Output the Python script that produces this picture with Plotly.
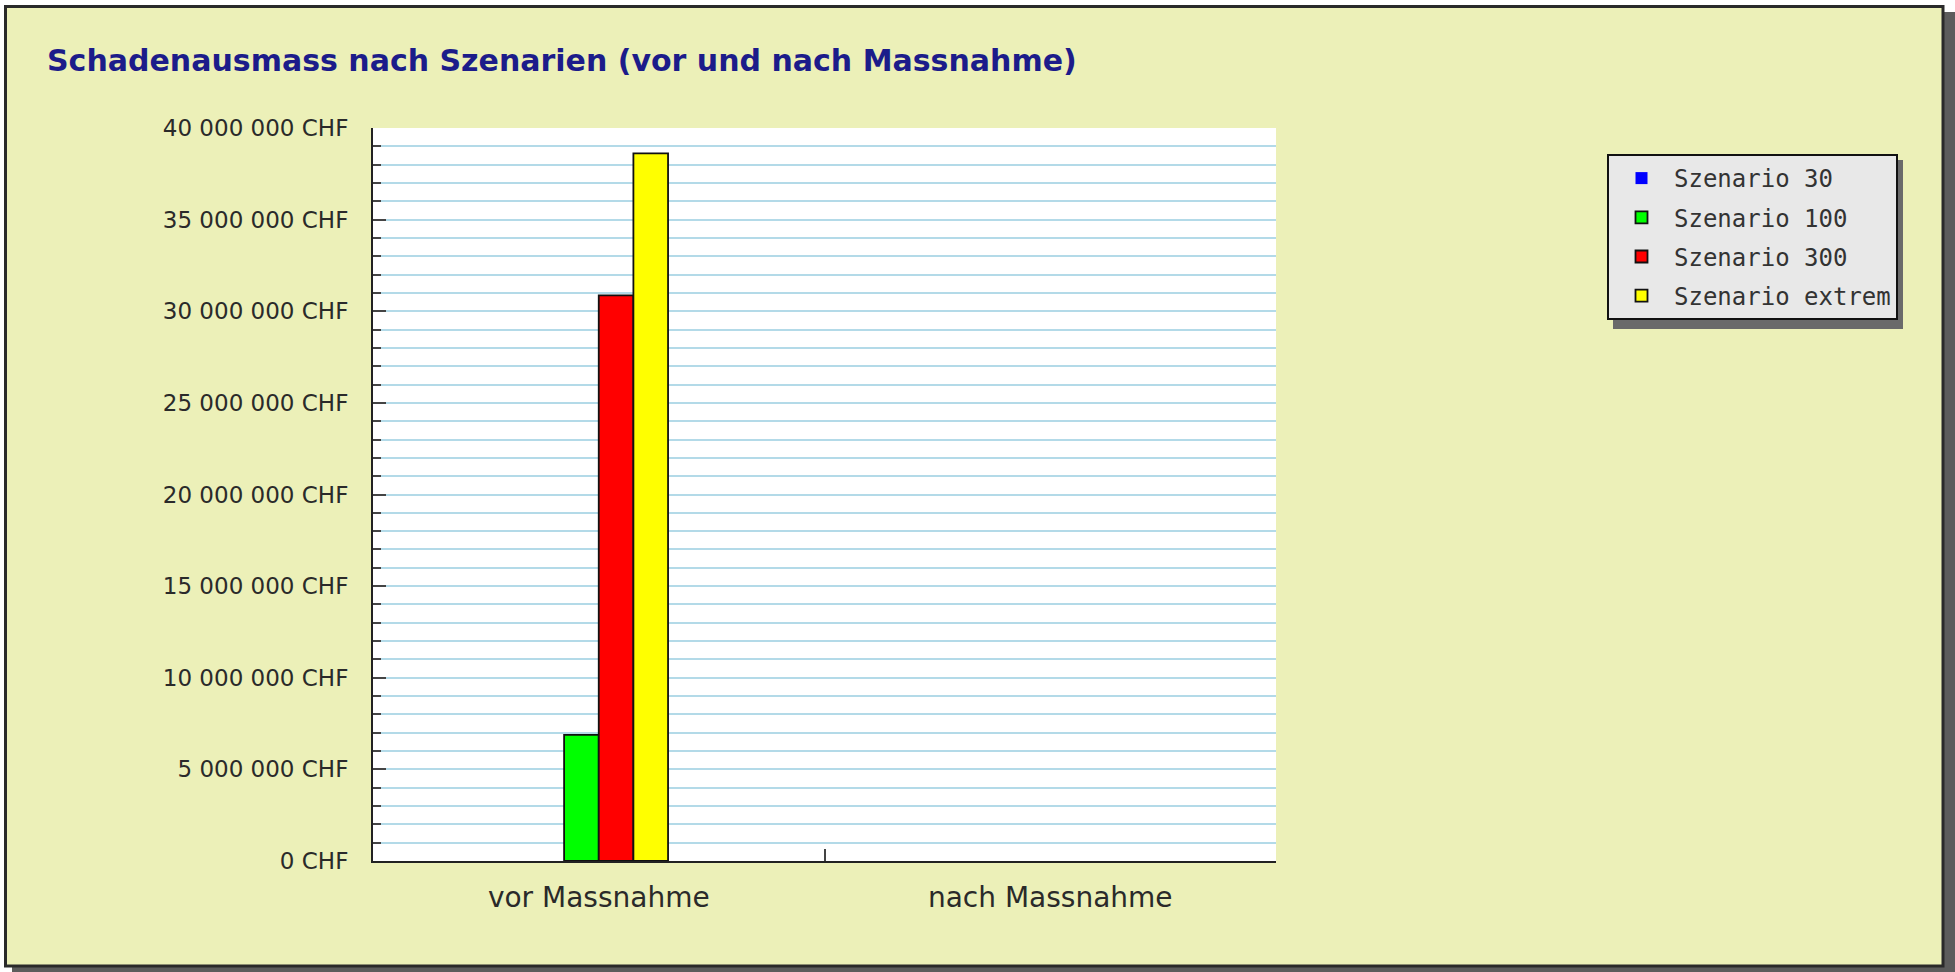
import plotly.graph_objects as go

# ---- data ----
categories = ["vor Massnahme", "nach Massnahme"]
series_names = ["Szenario 30", "Szenario 100", "Szenario 300", "Szenario extrem"]
series_colors = ["#0000ff", "#00ff00", "#ff0000", "#ffff00"]
szenario_30 = [0, 0]
szenario_100 = [6880000, 0]
szenario_300 = [30870000, 0]
szenario_extrem = [38620000, 0]
series_values = [szenario_30, szenario_100, szenario_300, szenario_extrem]
title_text = "Schadenausmass nach Szenarien (vor und nach Massnahme)"

W, H = 1955, 972
L, R, T, B = 373, 1276, 128, 861  # plot area in pixels


def px(x):
    return (x - L) / (R - L)


def py(y):
    return (B - y) / (B - T)


fig = go.Figure()
for i, (name, col, vals) in enumerate(zip(series_names, series_colors, series_values)):
    fig.add_trace(go.Bar(
        x=categories, y=vals, name=name, legendgroup=f"g{i}",
        marker=dict(color=col,
                    line=dict(color="#111111", width=[1.8 if v > 0 else 0 for v in vals])),
    ))


def rect(x0, y0, x1, y1, fill=None, line=None, layer="below"):
    d = dict(type="rect", xref="paper", yref="paper", layer=layer,
             x0=px(x0), x1=px(x1), y0=py(y1), y1=py(y0))
    d["fillcolor"] = fill if fill else "rgba(0,0,0,0)"
    d["line"] = line if line else dict(width=0)
    return d


shapes = [
    # white surroundings
    rect(0, 0, W, 5, fill="#ffffff"),
    rect(0, 0, 4, H, fill="#ffffff"),
    rect(1944, 0, W, 12, fill="#ffffff"),
    rect(0, 967, 12, H, fill="#ffffff"),
    # frame shadow
    rect(1944, 12, W, H, fill="#5c5c5c"),
    rect(12, 967, W, H, fill="#5c5c5c"),
    # frame border
    rect(5.5, 6.5, 1943, 966, line=dict(color="#2a2a2a", width=3)),
    # legend shadow
    rect(1613, 160, 1903, 329, fill="#6a6a6a", layer="above"),
]

fig.update_layout(
    width=W, height=H,
    margin=dict(l=L, r=W - R, t=T, b=H - B, pad=0),
    paper_bgcolor="#ecf0b8",
    plot_bgcolor="#ffffff",
    separators=". ",
    barmode="group",
    bargap=0.693,
    bargroupgap=0,
    title=dict(text="<b>" + title_text + "</b>", xref="container", yref="container",
               x=47 / W, xanchor="left", y=1 - 60 / H, yanchor="middle",
               font=dict(family="DejaVu Sans", size=30, color="#1c1c8a")),
    xaxis=dict(
        showline=True, linecolor="#222222", linewidth=2,
        ticks="inside", tickson="boundaries", ticklen=12, tickwidth=2, tickcolor="#444444",
        tickfont=dict(family="DejaVu Sans", size=28, color="#2a2a2a"),
        ticklabelstandoff=10, showgrid=False, zeroline=False,
    ),
    yaxis=dict(
        range=[0, 40000000], dtick=5000000, tickformat=",d", ticksuffix=" CHF",
        showline=True, linecolor="#222222", linewidth=2,
        ticks="inside", ticklen=13, tickwidth=2, tickcolor="#444444",
        tickfont=dict(family="DejaVu Sans", size=23, color="#2a2a2a"),
        ticklabelstandoff=18,
        showgrid=True, gridcolor="#b3dae8", gridwidth=2.2, zeroline=False,
        minor=dict(dtick=1000000, ticks="inside", ticklen=8, tickwidth=2, tickcolor="#444444",
                   showgrid=True, gridcolor="#b3dae8", gridwidth=2.2),
    ),
    legend=dict(
        x=px(1607), xanchor="left", y=py(154), yanchor="top",
        bgcolor="#e8e8e8", bordercolor="#111111", borderwidth=2,
        font=dict(family="DejaVu Sans Mono", size=24, color="#333333"),
        tracegroupgap=5, itemwidth=55,
    ),
    shapes=shapes,
)

fig.write_html("out.html", config={"displayModeBar": False},
               post_script="document.body.style.margin='0px';document.body.style.overflow='hidden';")
